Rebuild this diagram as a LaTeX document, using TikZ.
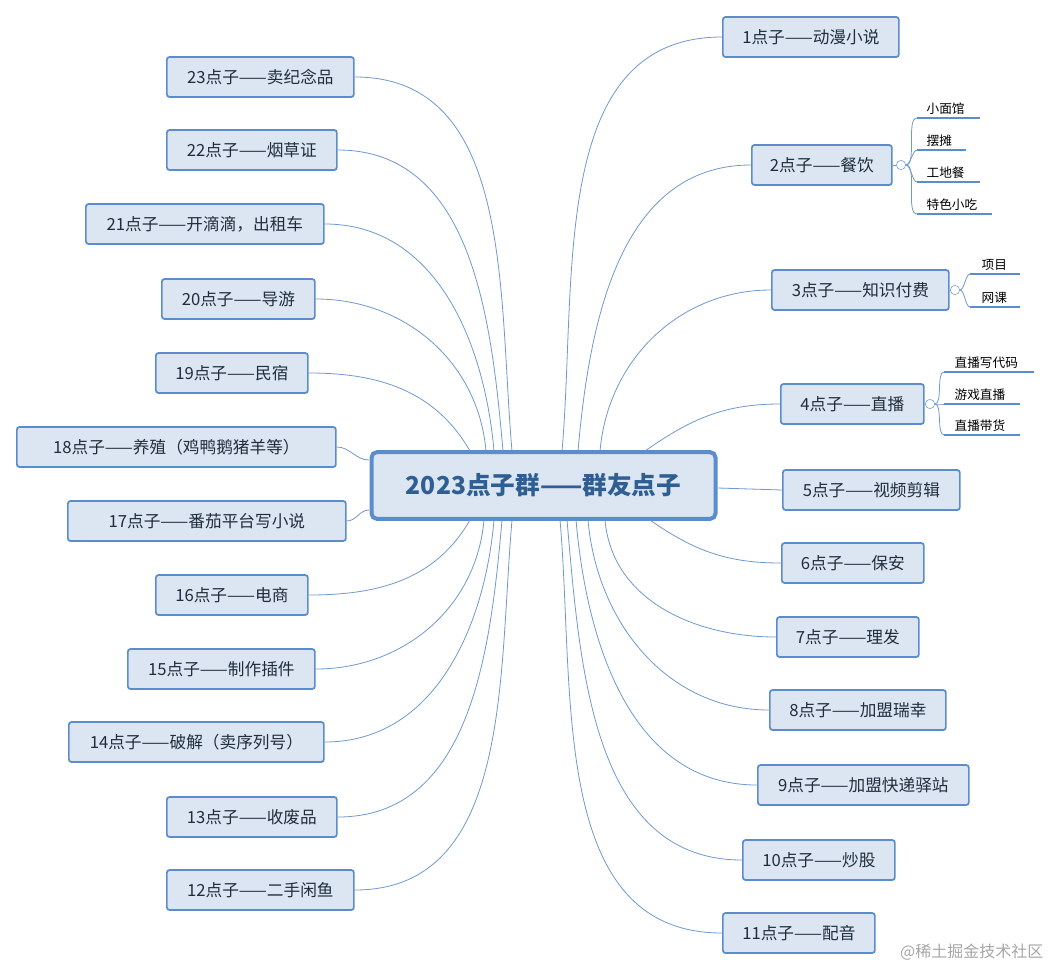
\documentclass[tikz,border=0pt]{standalone}
\usepackage{fontspec}
\setmainfont{Noto Sans CJK SC}
\begin{document}
\begin{tikzpicture}[x=0.75pt,y=-0.75pt,
  topic/.style={draw=boxb,fill=boxf,rounded corners=2pt,line width=1.3pt,minimum height=30pt,inner sep=0pt,anchor=west,font=\fontsize{12.5}{14}\selectfont,text=txt},
  conn/.style={draw=lnc,line width=0.6pt},
  sub/.style={font=\fontsize{9.5}{10}\selectfont,anchor=south west,inner sep=1pt},
  ul/.style={draw=boxb,line width=1.8pt},
  tog/.style={draw=lnc,fill=white,circle,inner sep=0pt,minimum size=7pt}]
\definecolor{boxb}{HTML}{5B8CCB}
\definecolor{boxf}{HTML}{DCE6F2}
\definecolor{lnc}{HTML}{6F98CC}
\definecolor{txt}{HTML}{1F2D3D}
\definecolor{ctxt}{HTML}{2F5F92}
\useasboundingbox (0,0) rectangle (1052,971);
\node[draw=boxb,fill=boxf,rounded corners=4pt,line width=3pt,minimum width=258pt,minimum height=50pt,font=\fontsize{18.5}{20}\selectfont\bfseries,text=ctxt] (c) at (543.5,485.5) {2023点子群——群友点子};
% right nodes
\foreach \id/\l/\r/\y/\t in {1/722/898/37/1点子——动漫小说,2/751/891/165/2点子——餐饮,3/771/948/290/3点子——知识付费,4/780/923/404/4点子——直播,5/782/959/490/5点子——视频剪辑,6/781/923/563/6点子——保安,7/776/918/637/7点子——理发,8/769/945/710/8点子——加盟瑞幸,9/757/968/785/9点子——加盟快递驿站,10/742/894/860/10点子——炒股,11/722/874/933/11点子——配音}
  {\pgfmathsetmacro\w{(\r-\l)*0.75}
   \node[topic,minimum width=\w pt] (r\id) at (\l,\y) {\t};}
\foreach \id/\l/\r/\y/\t in {23/166/353/77/23点子——卖纪念品,22/166/336/150/22点子——烟草证,21/85/323/224/{21点子——开滴滴，出租车},20/161/314/299/20点子——导游,19/155/307/373/19点子——民宿,18/16/335/447/18点子——养殖（鸡鸭鹅猪羊等）,17/67/345/521/17点子——番茄平台写小说,16/155/307/595/16点子——电商,15/127/314/669/15点子——制作插件,14/68/323/742/14点子——破解（卖序列号）,13/166/336/817/13点子——收废品,12/166/353/890/12点子——二手闲鱼}
  {\pgfmathsetmacro\w{(\r-\l)*0.75}
   \node[topic,minimum width=\w pt] (l\id) at (\l,\y) {\t};}
% start points
\foreach \n/\x/\y in {s1/562/451,s2/578/451,s3/600/451,s4/645/451,s5/718/488,s6/650/520,s7/605/520,s8/588/520,s9/576/520,s10/567/520,s11/560/520,
  t23/512/451,t22/503/451,t21/494/451,t20/486/451,t19/470/451,t18/369/460,t17/369/510,t16/470/520,t15/484/520,t14/494/520,t13/502/520,t12/512/520}
  \coordinate (\n) at (\x,\y);
\foreach \i in {1,2,3} \draw[conn] (s\i) to[out=85,in=180] (r\i.west);
\draw[conn] (s4) to[out=35,in=180] (r4.west);
\draw[conn] (s5) -- (r5.west);
\draw[conn] (s6) to[out=-35,in=180] (r6.west);
\foreach \i in {7,...,11} \draw[conn] (s\i) to[out=-85,in=180] (r\i.west);
\foreach \i in {23,22,21,20} \draw[conn] (t\i) to[out=95,in=0] (l\i.east);
\draw[conn] (t19) to[out=120,in=0] (l19.east);
\draw[conn] (t18) to[out=180,in=0] (l18.east);
\draw[conn] (t17) to[out=180,in=0] (l17.east);
\draw[conn] (t16) to[out=-120,in=0] (l16.east);
\foreach \i in {15,14,13,12} \draw[conn] (t\i) to[out=-95,in=0] (l\i.east);
% subtopics of 2
\node[tog] (g2) at (901,165) {};
\draw[conn] (r2.east) -- (g2);
\foreach \n/\y/\e/\t in {a/118/980/小面馆,b/150/966/摆摊,c/182/980/工地餐,d/214/992/特色小吃}
 {\coordinate (u2\n) at (917,\y);
  \draw[conn] (g2.east) to[out=0,in=180,looseness=0.6] (u2\n);
  \draw[ul] (u2\n) -- (\e,\y);
  \node[sub] at (925,\y-2) {\t};}
% subtopics of 3
\node[tog] (g3) at (955,290) {};
\draw[conn] (r3.east) -- (g3);
\foreach \n/\y/\t in {a/274/项目,b/307/网课}
 {\coordinate (u3\n) at (970,\y);
  \draw[conn] (g3.east) to[out=0,in=180,looseness=0.6] (u3\n);
  \draw[ul] (u3\n) -- (1020,\y);
  \node[sub] at (980,\y-2) {\t};}
% subtopics of 4
\node[tog] (g4) at (930,404) {};
\draw[conn] (r4.east) -- (g4);
\foreach \n/\y/\e/\t in {a/372/1034/直播写代码,b/404/1020/游戏直播,c/435/1020/直播带货}
 {\coordinate (u4\n) at (944,\y);
  \draw[conn] (g4.east) to[out=0,in=180,looseness=0.6] (u4\n);
  \draw[ul] (u4\n) -- (\e,\y);
  \node[sub] at (953,\y-2) {\t};}
\node[font=\fontsize{12}{14}\selectfont,text=gray!70,anchor=east] (wm) at (1048,952) {@稀土掘金技术社区};
\end{tikzpicture}
\end{document}
